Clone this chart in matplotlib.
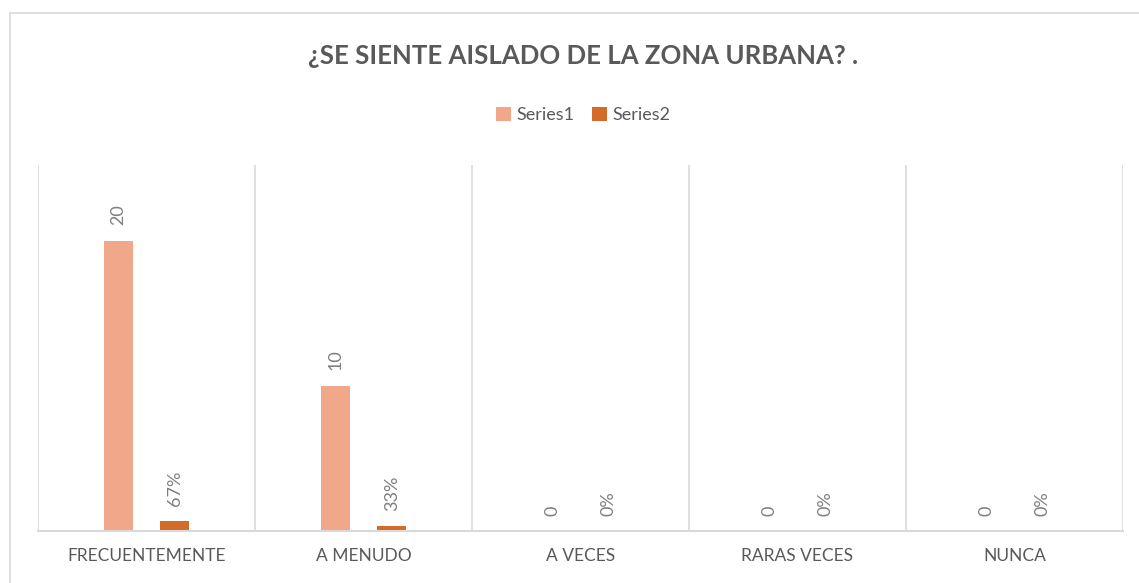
import numpy as np
import matplotlib.pyplot as plt
from matplotlib.patches import Rectangle

categories = ["FRECUENTEMENTE", "A MENUDO", "A VECES", "RARAS VECES", "NUNCA"]
series1 = [20, 10, 0, 0, 0]
series2 = [0.67, 0.33, 0, 0, 0]

title = "¿SE SIENTE AISLADO DE LA ZONA URBANA? ."
c1 = "#F1A88A"
c2 = "#D36B29"
grid_c = "#D9D9D9"
text_c = "#595959"
label_c = "#7F7F7F"

plt.rcParams['font.family'] = ['Lato', 'DejaVu Sans']

fig = plt.figure(figsize=(11.39, 5.83), dpi=100)
ax = fig.add_axes([38 / 1139, 1 - 531 / 583, (1123 - 38) / 1139, (531 - 165) / 583])

# chart border
fig.patches.append(Rectangle((10 / 1139, -0.1), 1.2, (583 - 13) / 583 + 0.1,
                             transform=fig.transFigure, fill=False,
                             edgecolor=grid_c, linewidth=1.2))

x = np.arange(len(categories))
w = 0.135
off = 0.13
b1 = ax.bar(x - off, series1, w, color=c1, label="Series1")
b2 = ax.bar(x + off, series2, w, color=c2, label="Series2")

for rect, v in zip(b1, series1):
    ax.annotate(f"{v}", (rect.get_x() + rect.get_width() / 2, rect.get_height()),
                xytext=(0, 11), textcoords="offset points", rotation=90,
                ha="center", va="bottom", color=label_c, fontsize=13)
for rect, v in zip(b2, series2):
    ax.annotate(f"{v:.0%}", (rect.get_x() + rect.get_width() / 2, rect.get_height()),
                xytext=(0, 11), textcoords="offset points", rotation=90,
                ha="center", va="bottom", color=label_c, fontsize=13)

ax.set_xlim(-0.5, len(categories) - 0.5)
ax.set_ylim(0, 25.2)
ax.set_yticks([])
ax.set_xticks(x)
ax.set_xticklabels(categories, color=text_c, fontsize=12.5)
ax.tick_params(axis="x", length=0, pad=12)

# category separators
for b in np.arange(len(categories) + 1) - 0.5:
    ax.axvline(b, color=grid_c, linewidth=1.2, zorder=0)
for s in ["top", "right", "left"]:
    ax.spines[s].set_visible(False)
ax.spines["bottom"].set_color(grid_c)
ax.spines["bottom"].set_linewidth(1.5)

fig.text(0.512, 1 - 56 / 583, title, ha="center", va="center",
         fontsize=18.5, fontweight="bold", color=text_c)
fig.legend(loc="center", bbox_to_anchor=(0.512, 1 - 115 / 583), ncol=2,
           frameon=False, fontsize=13, labelcolor=text_c,
           handlelength=0.8, handleheight=0.8, handletextpad=0.3,
           columnspacing=1.0)

fig.savefig("out.png", dpi=100)
